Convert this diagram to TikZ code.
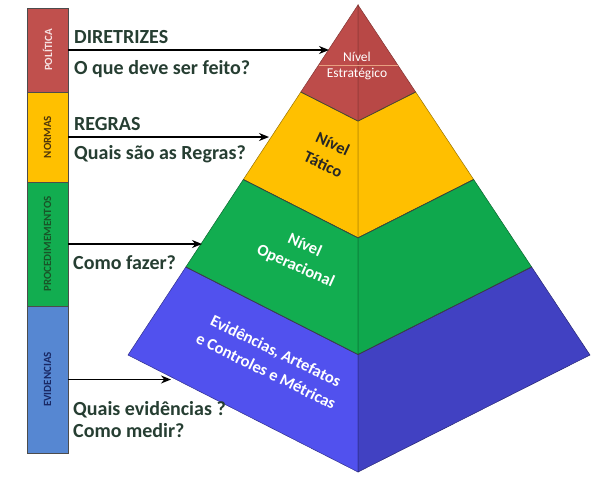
\documentclass[tikz,border=0pt]{standalone}
\usepackage{fontspec}
\setmainfont{Carlito}
\usetikzlibrary{arrows.meta,calc}
\definecolor{txtcol}{HTML}{263E32}
\definecolor{barred}{HTML}{C0504D}
\definecolor{baryel}{HTML}{FFC000}
\definecolor{bargrn}{HTML}{12AD50}
\definecolor{barblu}{HTML}{5687D2}
\definecolor{redL}{HTML}{BD4C4A}
\definecolor{redR}{HTML}{B84846}
\definecolor{yelL}{HTML}{FFC000}
\definecolor{yelR}{HTML}{FFBF00}
\definecolor{grnL}{HTML}{12AD50}
\definecolor{grnR}{HTML}{0FA84D}
\definecolor{bluL}{HTML}{5151EE}
\definecolor{bluR}{HTML}{4141C2}
\begin{document}
\begin{tikzpicture}[x=1pt,y=-1pt,
  barseg/.style={draw=black!70, line width=0.6pt, minimum width=41pt, inner sep=0pt,
    font=\fontsize{11}{13}\selectfont\bfseries},
  lefttxt/.style={anchor=base west, text=txtcol, inner sep=0pt,
    font=\fontsize{20}{23}\selectfont\bfseries},
  pyrtxt/.style={align=center, inner sep=0pt, font=\fontsize{16.5}{22.5}\selectfont\bfseries},
  arr/.style={line width=1.6pt, -{Stealth[length=10pt,width=8pt]}},
  face/.style={line width=0.5pt},
  bandline/.style={draw=black!75, line width=0.7pt}]
\path[use as bounding box, fill=white] (0,0) rectangle (600,477);

% pyramid geometry
\coordinate (A) at (358,5);
\coordinate (BL) at (128,355);
\coordinate (BC) at (358,472);
\coordinate (BR) at (590,355);
\foreach \i/\t in {1/0.2486,2/0.4986,3/0.7486}{
  \coordinate (L\i) at ($(A)!\t!(BL)$);
  \coordinate (C\i) at ($(A)!\t!(BC)$);
  \coordinate (R\i) at ($(A)!\t!(BR)$);
}

% faces
\filldraw[face, fill=redL, draw=redL!70!black] (A) -- (L1) -- (C1) -- cycle;
\filldraw[face, fill=redR, draw=redR!70!black] (A) -- (C1) -- (R1) -- cycle;
\filldraw[face, fill=yelL, draw=yelL!60!black] (L1) -- (L2) -- (C2) -- (C1) -- cycle;
\filldraw[face, fill=yelR, draw=yelR!60!black] (C1) -- (C2) -- (R2) -- (R1) -- cycle;
\filldraw[face, fill=grnL, draw=grnL!60!black] (L2) -- (L3) -- (C3) -- (C2) -- cycle;
\filldraw[face, fill=grnR, draw=grnR!60!black] (C2) -- (C3) -- (R3) -- (R2) -- cycle;
\filldraw[face, fill=bluL, draw=bluL!60!black] (L3) -- (BL) -- (BC) -- (C3) -- cycle;
\filldraw[face, fill=bluR, draw=bluR!60!black] (C3) -- (BC) -- (BR) -- (R3) -- cycle;
\draw[bandline] (L1) -- (C1) -- (R1);
\draw[bandline] (L2) -- (C2) -- (R2);
\draw[bandline] (L3) -- (C3) -- (R3);

% thin line in the top level
\coordinate (tl) at ($(A)!0.1714!(BL)$);
\coordinate (tr) at ($(A)!0.1714!(BR)$);
\draw[line width=0.5pt, draw={rgb,255:red,232;green,160;blue,128}] (tl) -- (tr);

% pyramid labels
\node[inner sep=0pt, align=center, text=white, font=\fontsize{13.5}{16}\selectfont] (estr) at (357,66) {Nível\\Estratégico};
\node[pyrtxt, text=black!85, rotate=-25] (tat) at (328,154) {Nível\\Tático};
\node[pyrtxt, text=white, rotate=-24] (oper) at (300,256) {Nível\\Operacional};
\node[pyrtxt, text=white, rotate=-26] (evid) at (271,361) {Evidências, Artefatos\\e Controles e Métricas};

% left bar
\node[barseg, fill=barred, minimum height=84pt, text={rgb,255:red,246;green,226;blue,226}] (pol) at (47.5,50) {\rotatebox{90}{POLÍTICA}};
\node[barseg, fill=baryel, minimum height=90pt, text={rgb,255:red,80;green,55;blue,10}] (nor) at (47.5,137) {\rotatebox{90}{NORMAS}};
\node[barseg, fill=bargrn, minimum height=124pt, text={rgb,255:red,25;green,85;blue,40}] (proc) at (47.5,244) {\rotatebox{90}{PROCEDIMEMENTOS}};
\node[barseg, fill=barblu, minimum height=147pt, text={rgb,255:red,25;green,40;blue,100}] (evb) at (47.5,379.5) {\rotatebox{90}{EVIDENCIAS}};

% left texts
\node[lefttxt] (t1) at (74,43) {DIRETRIZES};
\node[lefttxt] (t2) at (74,74) {O que deve ser feito?};
\node[lefttxt] (t3) at (74,130) {REGRAS};
\node[lefttxt] (t4) at (74,159) {Quais são as Regras?};
\node[lefttxt] (t5) at (73,269) {Como fazer?};
\node[lefttxt] (t6) at (73,415) {Quais evidências ?};
\node[lefttxt] (t7) at (73,437) {Como medir?};

% arrow tips
\coordinate (e1) at (329,50);
\coordinate (e2) at (269,137);
\coordinate (e3) at (202,244);
\coordinate (e4) at (171,379.5);
\draw[arr] (pol.east) -- (e1);
\draw[arr] (nor.east) -- (e2);
\draw[arr] (proc.east) -- (e3);
\draw[arr] (evb.east) -- (e4);
\end{tikzpicture}
\end{document}
